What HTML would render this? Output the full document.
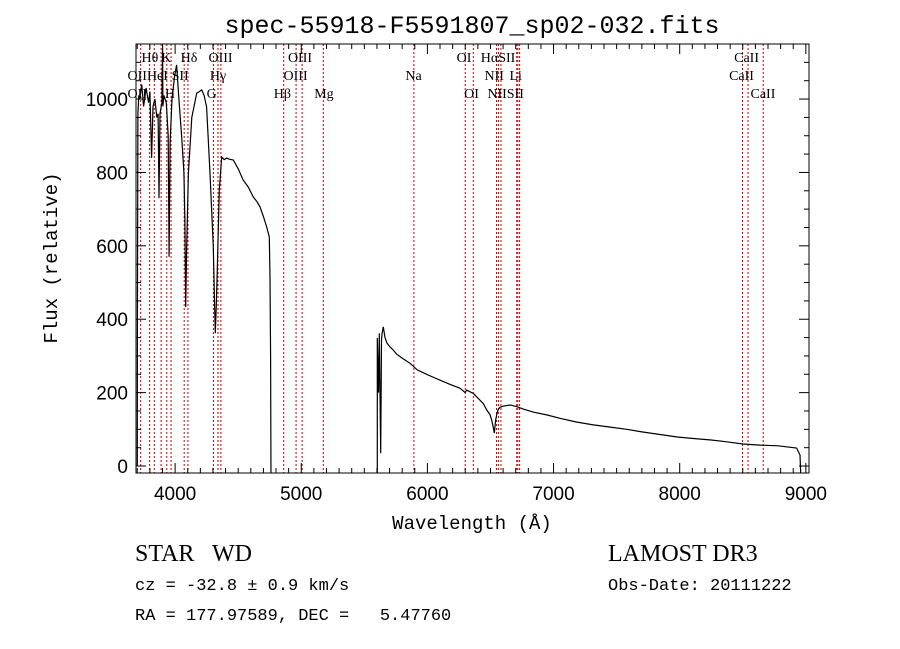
<!DOCTYPE html>
<html><head><meta charset="utf-8"><style>
body{margin:0;background:#fff;width:900px;height:649px;overflow:hidden}
svg{display:block}
text{white-space:pre}
.mono{font-family:"Liberation Mono",monospace}
.serif{font-family:"Liberation Serif",serif}
</style></head><body>
<svg id="chart" width="900" height="649" xmlns="http://www.w3.org/2000/svg" xml:space="preserve">
<defs><clipPath id="pc"><rect x="136" y="44" width="673" height="429"/></clipPath></defs>
<text x="472" y="33" text-anchor="middle" class="mono" font-size="25">spec-55918-F5591807_sp02-032.fits</text>
<g id="lines"></g>
<g id="labels"></g>
<g id="spec" clip-path="url(#pc)"></g>
<rect x="136" y="44" width="673" height="429" fill="none" stroke="#000" stroke-width="1"/>
<g id="ticks"></g>
<text x="472" y="529" text-anchor="middle" class="mono" font-size="19">Wavelength (Å)</text>
<text transform="translate(57,258) rotate(-90)" text-anchor="middle" class="mono" font-size="19">Flux (relative)</text>
<text x="135" y="561" class="serif" font-size="24">STAR   WD</text>
<text x="135" y="590" class="mono" font-size="17">cz = -32.8 ± 0.9 km/s</text>
<text x="135" y="620" class="mono" font-size="17">RA = 177.97589, DEC =   5.47760</text>
<text x="608" y="561" class="serif" font-size="24">LAMOST DR3</text>
<text x="608" y="590" class="mono" font-size="17">Obs-Date: 20111222</text>
</svg>
<script>
const wave=[3700,3701,3705,3712,3720,3735,3750,3770,3790,3800,3814,3825,3840,3855,3865,3872,3880,3895,3901,3903,3910,3930,3945,3952,3960,3975,3995,4012,4030,4052,4070,4078,4084,4092,4105,4132,4171,4190,4211,4230,4250,4277,4303,4312,4319,4326,4334,4350,4369,4389,4409,4430,4461,4500,4540,4580,4620,4650,4673,4700,4726,4747,4752,4757,4760,5600,5603,5612,5619,5624,5630,5636,5640,5650,5664,5680,5703,5730,5756,5800,5862,5920,5994,6060,6126,6190,6258,6300,6310,6364,6400,6443,6470,6496,6510,6522,6530,6535,6541,6549,6560,6575,6600,6628,6660,6707,6760,6839,6950,7051,7180,7315,7450,7580,7700,7844,7980,8108,8250,8373,8500,8637,8780,8927,8954,8962,8967,8975];
const flux=[0,370,960,1010,1000,1040,980,1030,990,1020,840,980,1000,950,960,730,960,990,1147,980,1010,990,900,570,880,1000,1060,1093,1000,896,800,670,433,600,798,950,1016,1020,1025,1010,978,798,597,450,362,430,526,752,842,835,839,836,834,810,779,760,733,720,706,680,651,624,515,300,-50,-50,349,200,362,200,35,343,360,379,350,335,325,316,305,294,280,262,250,240,230,221,212,200,207,198,185,170,153,140,125,105,90,105,125,140,153,160,163,165,166,162,155,147,139,130,120,112,106,100,93,86,79,75,71,66,60,57,55,49,30,-50,-50];
const lineWave=[3727,3798,3835,3889,3934,3968,4072,4102,4304,4340,4363,4861,4959,5007,5175,5893,6300,6364,6548,6563,6583,6708,6717,6731,8498,8542,8662];
const xTickLabels=["4000","5000","6000","7000","8000","9000"];
const xTickValues=[4000,5000,6000,7000,8000,9000];
const yTickLabels=["0","200","400","600","800","1000"];
const yTickValues=[0,200,400,600,800,1000];
const labelText=["Hθ","K","Hδ","OIII","OIII","OI","HαSII","CaII","OII","HeI","SII","Hγ","OIII","Na","NII","Li","CaII","OII","H","G","Hβ","Mg","OI","NIISII","CaII"];
const labelRow=[0,0,0,0,0,0,0,0,1,1,1,1,1,1,1,1,1,2,2,2,2,2,2,2,2];
const labelWave=[3800,3930,4110,4360,4990,6290,6560,8530,3700,3860,4040,4340,4955,5890,6530,6700,8490,3700,3960,4290,4850,5180,6350,6620,8660];

const X0=136,X1=809,Y0=473,Y1=44,XMIN=3690,XMAX=9025,YMIN=-19,YMAX=1150;
const sx=w=>X0+(w-XMIN)/(XMAX-XMIN)*(X1-X0);
const sy=f=>Y0-(f-YMIN)/(YMAX-YMIN)*(Y0-Y1);
const NS="http://www.w3.org/2000/svg";
function mk(t,a,p){const e=document.createElementNS(NS,t);for(const k in a)e.setAttribute(k,a[k]);p.appendChild(e);return e;}

const gl=document.getElementById('lines');
lineWave.forEach(w=>{const l=mk('line',{x1:sx(w),x2:sx(w),y1:Y1,y2:Y0,stroke:'#c00000','stroke-width':1,'stroke-dasharray':'2,2'},gl);

});

const glb=document.getElementById('labels');
labelText.forEach((t,i)=>{const e=mk('text',{x:sx(labelWave[i]),y:62+labelRow[i]*18,'text-anchor':'middle','font-size':14,'font-family':'Liberation Serif, serif'},glb);e.textContent=t;

});

const gs=document.getElementById('spec');
let d='';let pen=false;
for(let i=0;i<wave.length;i++){
  const pt=sx(wave[i]).toFixed(1)+','+sy(flux[i]).toFixed(1);
  if(flux[i]<-40){ if(pen){d+='L'+pt;} pen=false; continue; }
  if(!pen && i>0 && flux[i-1]<-40){ d+='M'+sx(wave[i]).toFixed(1)+','+sy(-50).toFixed(1)+'L'+pt; }
  else d+=(pen?'L':'M')+pt;
  pen=true;}
const p=mk('path',{d:d,fill:'none',stroke:'#000','stroke-width':1.2},gs);



const gt=document.getElementById('ticks');
for(let w=3700;w<=9000;w+=100){const maj=w%1000===0,L=maj?10:5;
 mk('line',{x1:sx(w),x2:sx(w),y1:Y0,y2:Y0-L,stroke:'#000'},gt);
 mk('line',{x1:sx(w),x2:sx(w),y1:Y1,y2:Y1+L,stroke:'#000'},gt);}
for(let f=0;f<=1150;f+=50){const maj=f%200===0,L=maj?10:5;
 mk('line',{x1:X0,x2:X0+L,y1:sy(f),y2:sy(f),stroke:'#000'},gt);
 mk('line',{x1:X1,x2:X1-L,y1:sy(f),y2:sy(f),stroke:'#000'},gt);}
xTickLabels.forEach((t,i)=>{const e=mk('text',{x:sx(xTickValues[i]),y:500,'text-anchor':'middle','font-size':19,'font-family':'Liberation Sans, sans-serif'},gt);e.textContent=t;

});
yTickLabels.forEach((t,i)=>{const e=mk('text',{x:128,y:sy(yTickValues[i])+7,'text-anchor':'end','font-size':19,'font-family':'Liberation Sans, sans-serif'},gt);e.textContent=t;

});
</script>
</body></html>
